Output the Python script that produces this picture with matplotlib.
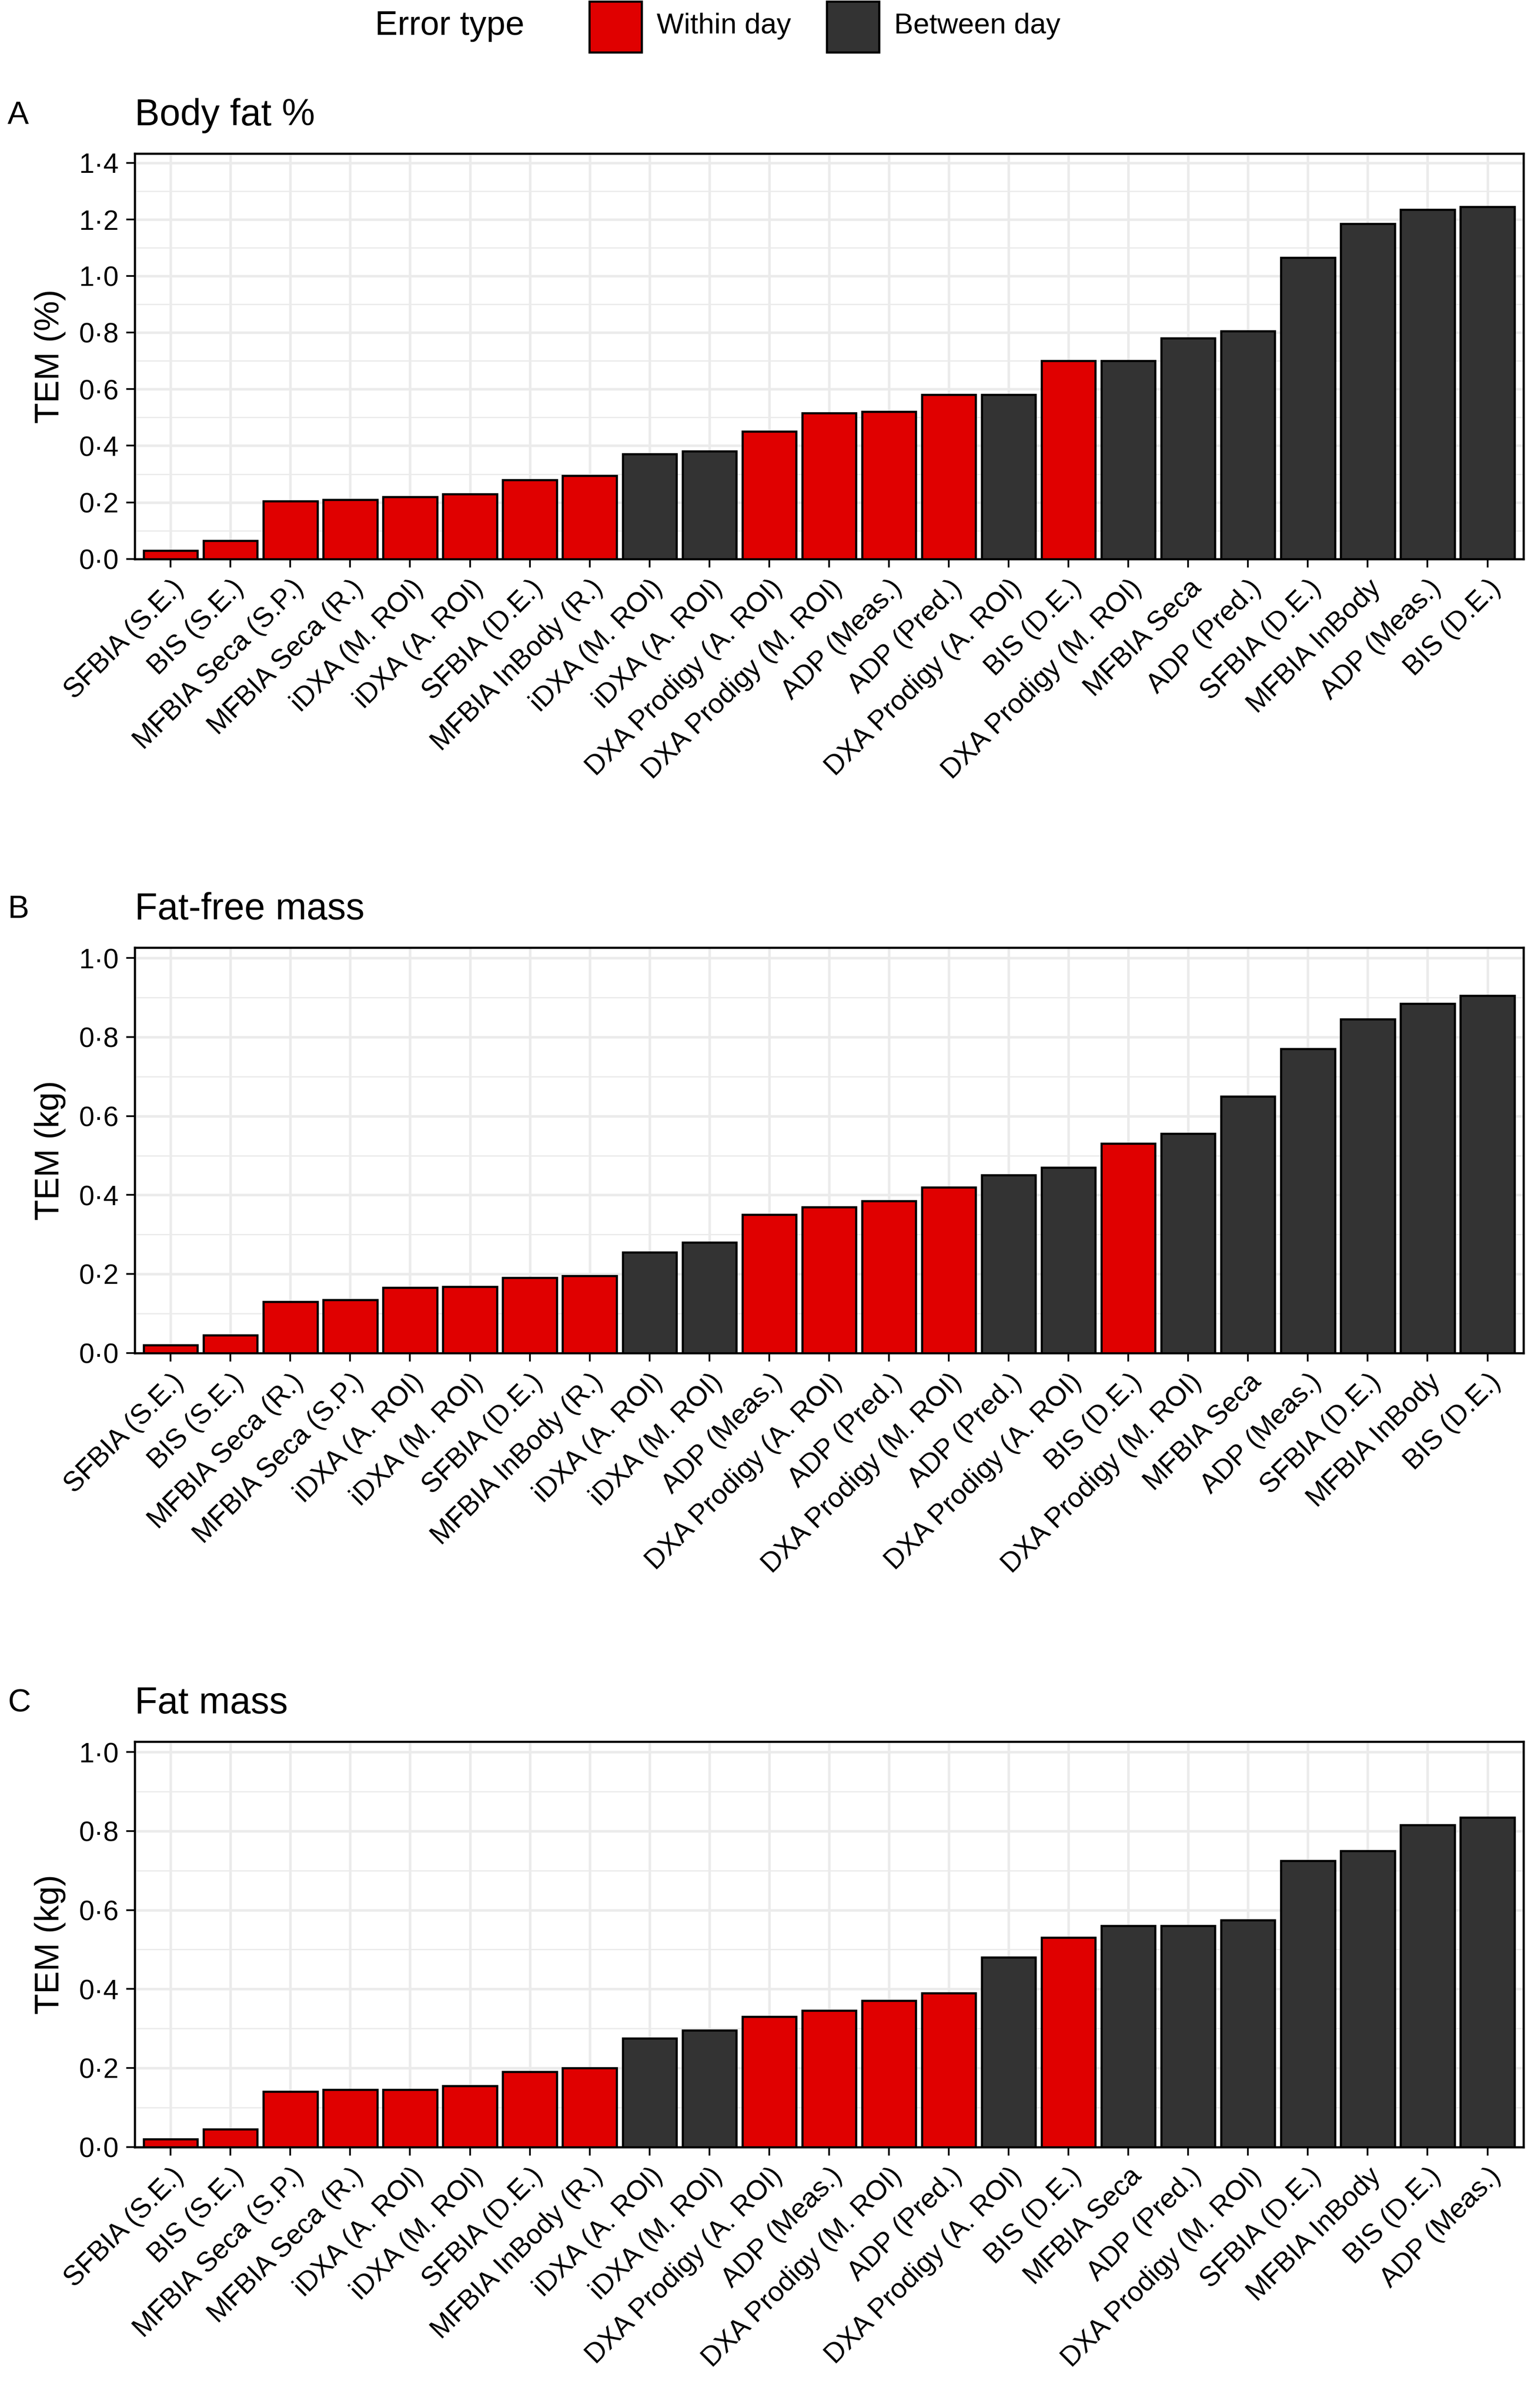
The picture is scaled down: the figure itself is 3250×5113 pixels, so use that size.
import matplotlib.pyplot as plt
from matplotlib.patches import Rectangle
from matplotlib.ticker import MultipleLocator, FuncFormatter

plt.rcParams['font.family'] = ['Liberation Sans', 'DejaVu Sans']

WITHIN = '#E00000'
BETWEEN = '#333333'

# panel A: body fat %
a_labels = ["SFBIA (S.E.)", "BIS (S.E.)", "MFBIA Seca (S.P.)", "MFBIA Seca (R.)", "iDXA (M. ROI)",
            "iDXA (A. ROI)", "SFBIA (D.E.)", "MFBIA InBody (R.)", "iDXA (M. ROI)", "iDXA (A. ROI)",
            "DXA Prodigy (A. ROI)", "DXA Prodigy (M. ROI)", "ADP (Meas.)", "ADP (Pred.)",
            "DXA Prodigy (A. ROI)", "BIS (D.E.)", "DXA Prodigy (M. ROI)", "MFBIA Seca", "ADP (Pred.)",
            "SFBIA (D.E.)", "MFBIA InBody", "ADP (Meas.)", "BIS (D.E.)"]
a_values = [0.03, 0.065, 0.205, 0.21, 0.22, 0.23, 0.28, 0.295, 0.37, 0.38, 0.45, 0.515, 0.52, 0.58,
            0.58, 0.70, 0.70, 0.78, 0.805, 1.065, 1.185, 1.235, 1.245]
a_type = list("WWWWWWWWBBWWWWBWBBBBBBB")

# panel B: fat-free mass
b_labels = ["SFBIA (S.E.)", "BIS (S.E.)", "MFBIA Seca (R.)", "MFBIA Seca (S.P.)", "iDXA (A. ROI)",
            "iDXA (M. ROI)", "SFBIA (D.E.)", "MFBIA InBody (R.)", "iDXA (A. ROI)", "iDXA (M. ROI)",
            "ADP (Meas.)", "DXA Prodigy (A. ROI)", "ADP (Pred.)", "DXA Prodigy (M. ROI)", "ADP (Pred.)",
            "DXA Prodigy (A. ROI)", "BIS (D.E.)", "DXA Prodigy (M. ROI)", "MFBIA Seca", "ADP (Meas.)",
            "SFBIA (D.E.)", "MFBIA InBody", "BIS (D.E.)"]
b_values = [0.02, 0.045, 0.13, 0.135, 0.165, 0.168, 0.19, 0.195, 0.255, 0.28, 0.35, 0.37, 0.385,
            0.42, 0.45, 0.47, 0.53, 0.555, 0.65, 0.77, 0.845, 0.885, 0.905]
b_type = list("WWWWWWWWBBWWWWBBWBBBBBB")

# panel C: fat mass
c_labels = ["SFBIA (S.E.)", "BIS (S.E.)", "MFBIA Seca (S.P.)", "MFBIA Seca (R.)", "iDXA (A. ROI)",
            "iDXA (M. ROI)", "SFBIA (D.E.)", "MFBIA InBody (R.)", "iDXA (A. ROI)", "iDXA (M. ROI)",
            "DXA Prodigy (A. ROI)", "ADP (Meas.)", "DXA Prodigy (M. ROI)", "ADP (Pred.)",
            "DXA Prodigy (A. ROI)", "BIS (D.E.)", "MFBIA Seca", "ADP (Pred.)", "DXA Prodigy (M. ROI)",
            "SFBIA (D.E.)", "MFBIA InBody", "BIS (D.E.)", "ADP (Meas.)"]
c_values = [0.02, 0.045, 0.14, 0.145, 0.145, 0.155, 0.19, 0.20, 0.275, 0.295, 0.33, 0.345, 0.37,
            0.39, 0.48, 0.53, 0.56, 0.56, 0.575, 0.725, 0.75, 0.815, 0.835]
c_type = list("WWWWWWWWBBWWWWBWBBBBBBB")

panels = [
    ("A", "Body fat %", "TEM (%)", a_labels, a_values, a_type, 1.433),
    ("B", "Fat-free mass", "TEM (kg)", b_labels, b_values, b_type, 1.027),
    ("C", "Fat mass", "TEM (kg)", c_labels, c_values, c_type, 1.027),
]

W, H = 1000, 1568  # layout in reference display pixels
fig = plt.figure(figsize=(10, 15.733), dpi=325)
tops = [100, 617, 1134]
fmt = FuncFormatter(lambda v, p: f"{v:.1f}".replace(".", "\u00b7"))

for (tag, title, ylab, labels, values, types, ylim), top in zip(panels, tops):
    ax = fig.add_axes([88 / W, 1 - (top + 264) / H, 907 / W, 264 / H])
    x = range(len(values))
    colors = [WITHIN if t == "W" else BETWEEN for t in types]
    ax.bar(x, values, width=0.9, color=colors, edgecolor='black', linewidth=1.0, zorder=3)
    ax.set_xlim(-0.6, len(values) - 0.4)
    ax.set_ylim(0, ylim)
    ax.yaxis.set_major_locator(MultipleLocator(0.2))
    ax.yaxis.set_minor_locator(MultipleLocator(0.1))
    ax.yaxis.set_major_formatter(fmt)
    ax.set_xticks(list(x))
    ax.set_xticklabels(labels, rotation=45, ha='right', rotation_mode='anchor', fontsize=13)
    ax.tick_params(axis='y', labelsize=13, length=4)
    ax.tick_params(axis='x', length=4)
    ax.tick_params(which='minor', length=0)
    ax.grid(True, which='major', color='#EBEBEB', linewidth=1.2, zorder=0)
    ax.grid(True, which='minor', axis='y', color='#EBEBEB', linewidth=0.6, zorder=0)
    ax.set_axisbelow(True)
    for s in ax.spines.values():
        s.set_linewidth(1.0)
    ax.set_ylabel(ylab, fontsize=16, labelpad=6)
    ax.text(0, 1.05, title, transform=ax.transAxes, fontsize=17.5, ha='left', va='bottom')
    fig.text(5 / W, 1 - (top - 25) / H, tag, fontsize=15, ha='left', va='center')

# legend at top
fig.text(245 / W, 1 - 17 / H, "Error type", fontsize=16, ha='left', va='center')
for x0, col, lab in [(385, WITHIN, "Within day"), (540, BETWEEN, "Between day")]:
    fig.patches.append(Rectangle((x0 / W, 1 - 34 / H), 34 / W, 33 / H, transform=fig.transFigure,
                                 facecolor=col, edgecolor='black', linewidth=1.0))
    fig.text((x0 + 44) / W, 1 - 17 / H, lab, fontsize=13.5, ha='left', va='center')

fig.savefig("out.png", dpi=325)
